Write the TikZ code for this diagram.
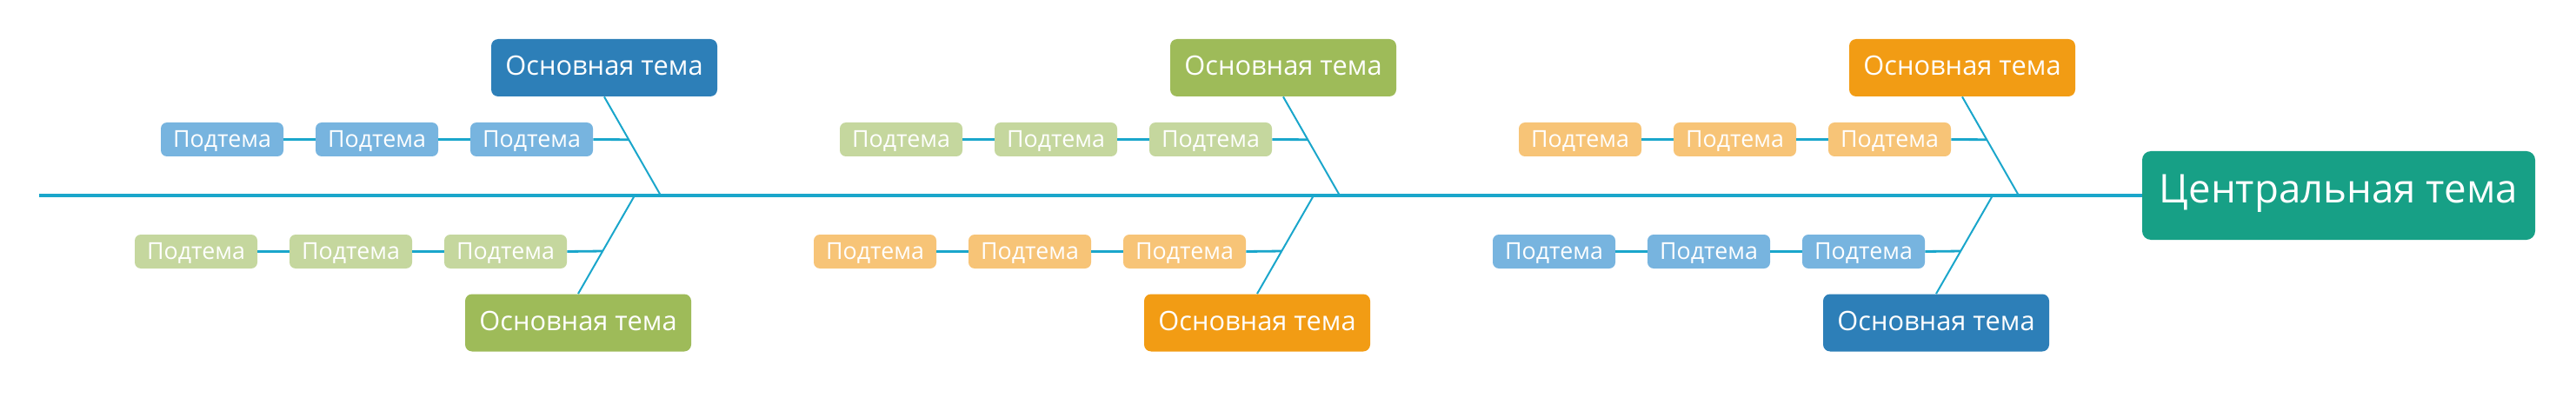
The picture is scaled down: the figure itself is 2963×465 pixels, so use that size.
\documentclass[tikz,border=0pt]{standalone}
\usepackage{fontspec}
\setmainfont{Open Sans}
\usetikzlibrary{calc}
\definecolor{mblue}{HTML}{2D7FB8}
\definecolor{mgreen}{HTML}{9EBB59}
\definecolor{morange}{HTML}{F29C14}
\definecolor{sblue}{HTML}{77B4DF}
\definecolor{sgreen}{HTML}{C5D79E}
\definecolor{sorange}{HTML}{F7C477}
\definecolor{cteal}{HTML}{17A086}
\definecolor{linec}{HTML}{1AA6CB}
\begin{document}
\begin{tikzpicture}[x=0.5pt,y=-0.5pt,
  maintopic/.style={rounded corners=4pt, minimum width=130pt, minimum height=33pt, inner sep=0pt,
    text=white, font=\fontsize{15.4}{18}\selectfont, text height=1em, text depth=0.1em},
  subtopic/.style={rounded corners=3.5pt, minimum width=70.5pt, minimum height=19.5pt, inner sep=0pt,
    text=white, font=\fontsize{13.4}{15}\selectfont, text height=1em, text depth=0.1em},
  centraltopic/.style={rounded corners=5pt, minimum width=226pt, minimum height=51pt, inner sep=0pt,
    fill=cteal, text=white, font=\fontsize{22.8}{26}\selectfont, text height=0.95em, text depth=0.1em},
  spine/.style={draw=linec, line width=1.6pt},
  bone/.style={draw=linec, line width=1pt},
  twig/.style={draw=linec, line width=1.4pt}]
\useasboundingbox (0,0) rectangle (2963,465);
\node[centraltopic] (c) at (2690,225) {Центральная тема};
\coordinate (L) at (45,225);
\draw[spine] (L) -- (c.west);
\foreach \g/\X/\ct/\st/\cb/\sb in {1/695/mblue/sblue/mgreen/sgreen,
                                    2/1476/mgreen/sgreen/morange/sorange,
                                    3/2257/morange/sorange/mblue/sblue}{
  \node[maintopic,fill=\ct] (t\g) at (\X,78) {Основная тема};
  \node[maintopic,fill=\cb] (b\g) at (\X-30,371.5) {Основная тема};
  \coordinate (jt\g) at (\X+65,225);
  \coordinate (jb\g) at (\X+35,225);
  \draw[bone] (t\g.south) -- (jt\g);
  \draw[bone] (jb\g) -- (b\g.north);
  \coordinate (tp\g) at ($(t\g.south)!0.434!(jt\g)$);
  \coordinate (bp\g) at ($(jb\g)!0.566!(b\g.north)$);
  \foreach \i/\dx in {1/83.5,2/261.5,3/439.5}{
    \node[subtopic,fill=\st] (t\g-\i) at (\X-\dx,160.5) {Подтема};
  }
  \foreach \i/\dx in {1/113.5,2/291.5,3/469.5}{
    \node[subtopic,fill=\sb] (b\g-\i) at (\X-\dx,289.5) {Подтема};
  }
  \draw[twig] (t\g-1.east) -- (tp\g);
  \draw[twig] (t\g-2.east) -- (t\g-1.west);
  \draw[twig] (t\g-3.east) -- (t\g-2.west);
  \draw[twig] (b\g-1.east) -- (bp\g);
  \draw[twig] (b\g-2.east) -- (b\g-1.west);
  \draw[twig] (b\g-3.east) -- (b\g-2.west);
}
\end{tikzpicture}
\end{document}
